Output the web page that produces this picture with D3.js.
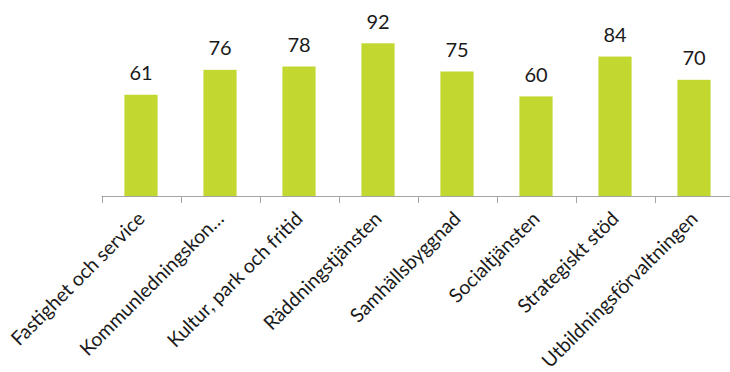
<!DOCTYPE html>
<html>
<head>
<meta charset="utf-8">
<script src="https://cdn.jsdelivr.net/npm/d3@7"></script>
<style>
  html, body { margin: 0; padding: 0; background: #fff; }
  svg { display: block; }
</style>
</head>
<body>
<svg id="chart" width="730" height="372"></svg>
<script>
const categories = ["Fastighet och service", "Kommunledningskon…", "Kultur, park och fritid", "Räddningstjänsten", "Samhällsbyggnad", "Socialtjänsten", "Strategiskt stöd", "Utbildningsförvaltningen"];
const values = [61, 76, 78, 92, 75, 60, 84, 70];
const yDomain = [0, 100];

const svg = d3.select("#chart");
const font = "Lato, 'Open Sans', sans-serif";
const x = d3.scaleBand().domain(categories).range([101.5, 733.5]).paddingInner(0.58).paddingOuter(0.29);
const y = d3.scaleLinear().domain(yDomain).range([196, 30]);

// bars
svg.append("g").selectAll("rect").data(values).join("rect")
  .attr("x", (d, i) => x(categories[i]))
  .attr("y", d => y(d))
  .attr("width", x.bandwidth())
  .attr("height", d => y(0) - y(d))
  .attr("fill", "#c2d72f");

// value labels
svg.append("g").selectAll("text").data(values).join("text")
  .attr("x", (d, i) => x(categories[i]) + x.bandwidth() / 2)
  .attr("y", d => y(d) - 14.5)
  .attr("text-anchor", "middle")
  .attr("font-family", font)
  .attr("font-size", 20)
  .attr("fill", "#1a1a1a")
  .text(d => d);

// axis
const step = x.step();
const edges = d3.range(categories.length + 1).map(i => 101.5 + i * step);
const ax = svg.append("g");
ax.append("line").attr("x1", 101.5).attr("x2", 730).attr("y1", 196.5).attr("y2", 196.5)
  .attr("stroke", "#a6a6a6").attr("stroke-width", 1);
ax.selectAll("line.tick").data(edges).join("line").attr("class", "tick")
  .attr("x1", d => Math.round(d) + 0.5).attr("x2", d => Math.round(d) + 0.5)
  .attr("y1", 196.5).attr("y2", 203)
  .attr("stroke", "#a6a6a6").attr("stroke-width", 1);

// category labels
svg.append("g").selectAll("text").data(categories).join("text")
  .attr("transform", d => `translate(${x(d) + x.bandwidth() / 2 + 5},${220}) rotate(-45)`)
  .attr("text-anchor", "end")
  .attr("font-family", font)
  .attr("font-size", 19.5)
  .attr("fill", "#1a1a1a")
  .text(d => d);
</script>
</body>
</html>
